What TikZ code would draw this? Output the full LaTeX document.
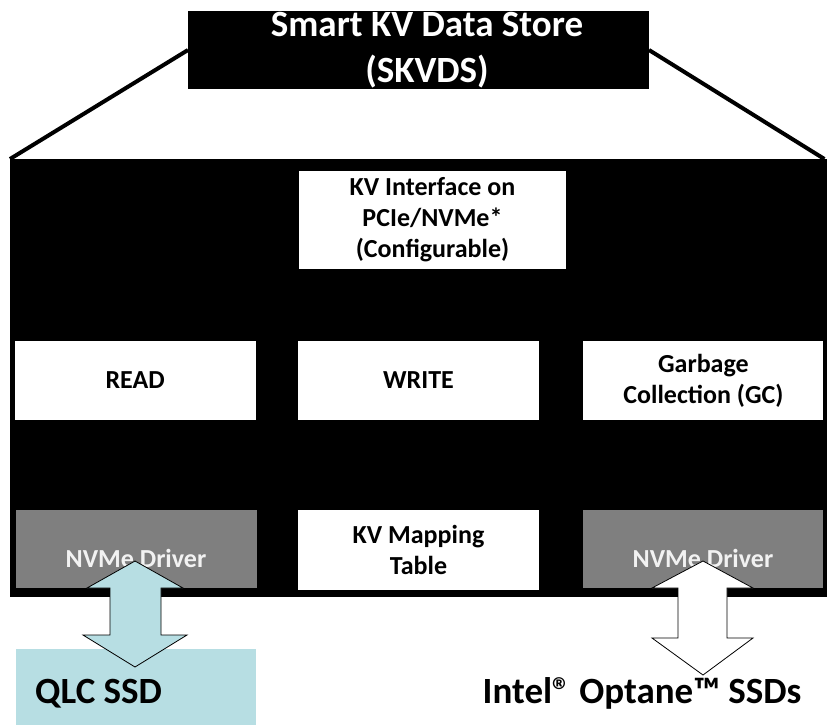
\documentclass[tikz,border=0pt]{standalone}
\usepackage{fontspec}
\setmainfont{Carlito}
\usetikzlibrary{positioning}
\definecolor{drvgray}{RGB}{127,127,127}
\definecolor{drvtext}{RGB}{242,242,242}
\definecolor{qlcblue}{RGB}{183,222,227}

\begin{document}
\begin{tikzpicture}[x=1pt,y=-1pt,
    box/.style={fill=white, inner sep=0pt, align=center, minimum width=241pt,
        minimum height=79pt, font=\fontsize{26}{31}\selectfont\bfseries},
    drv/.style={box, fill=drvgray, text=drvtext, text height=38pt, minimum height=78pt},
    big/.style={font=\fontsize{37}{46}\selectfont\bfseries, inner sep=0pt, align=center},
    blockarrow/.style={draw=black, line width=0.8pt, line join=miter}]
    \useasboundingbox (0,0) rectangle (827,724);

    % store and title
    \node[fill=black, inner sep=0pt, minimum width=817pt, minimum height=438pt, anchor=north west] (store) at (10,159) {};
    \draw[line width=4pt] (418,50) ++(-230,0) coordinate (tl) -- (store.north west);
    \draw[line width=4pt] (649,50) coordinate (tr) -- ([xshift=-3pt]store.north east);
    \node[fill=black, inner sep=0pt, minimum width=461pt, minimum height=78pt] (title) at (418.5,50) {};
    \node[big, text=white] (titletext) at (427,50) {Smart KV Data Store\\(SKVDS)};

    % blocks
    \node[box, minimum width=267pt, minimum height=98pt] (iface) at (432.5,220) {KV Interface on\\PCIe/NVMe*\\(Configurable)};
    \node[box] (write) at (418.5,380.5) {WRITE};
    \node[box, left=42pt of write] (read) {READ};
    \node[box, minimum width=240pt, right=44pt of write] (gc) {Garbage\\Collection (GC)};
    \node[drv] (drvL) at (136,549) {NVMe Driver};
    \node[box, minimum height=80pt] (map) at (418.5,550) {KV Mapping\\Table};
    \node[drv, minimum width=240pt] (drvR) at (703,549) {NVMe Driver};

    % drives
    \node[fill=qlcblue, inner sep=0pt, minimum width=240pt, minimum height=80pt, anchor=north west] (qlc) at (16,649) {};
    \node[big, anchor=base west] (qlctext) at (35,703) {QLC SSD};
    \node[big, anchor=base] (optane) at (642,703) {Intel® Optane™ SSDs};

    % arrows
    \coordinate (qtop) at (135,561);
    \draw[blockarrow, fill=qlcblue] (qtop) -- ++(48,27) -- ++(-22,0) -- ++(0,47) -- ++(26,0)
        -- ++(-52,32) -- ++(-52,-32) -- ++(27,0) -- ++(0,-47) -- ++(-23,0) -- cycle;
    \coordinate (otop) at (703,561);
    \draw[blockarrow, fill=white] (otop) -- ++(50,27) -- ++(-26,0) -- ++(0,50) -- ++(26,0)
        -- ++(-50,37) -- ++(-51,-37) -- ++(26,0) -- ++(0,-50) -- ++(-26,0) -- cycle;
\end{tikzpicture}
\end{document}
